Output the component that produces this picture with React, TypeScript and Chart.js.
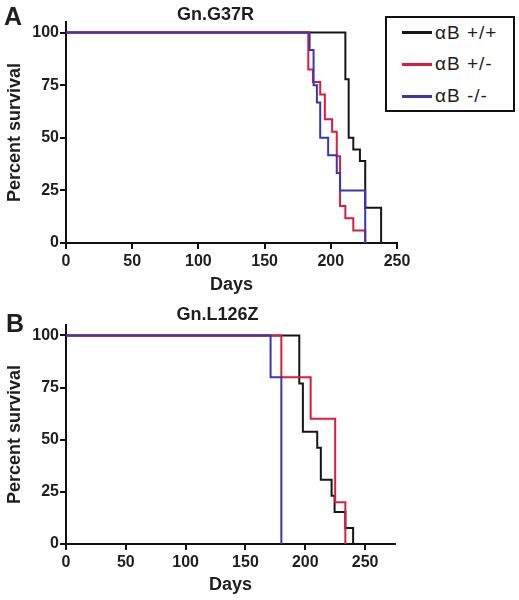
import React, { useEffect, useRef } from "react";
import { Chart, registerables } from "chart.js";
Chart.register(...registerables);

// ---------- Data ----------
// Panel A: Gn.G37R
const daysA_WT = [0, 211, 213.5, 217, 222, 226, 238];
const survA_WT = [100, 77.8, 50, 44.4, 38.9, 16.7, 0];
const daysA_HET = [0, 183, 186.5, 192, 195.5, 201, 204.5, 207, 211, 217, 226];
const survA_HET = [100, 82.4, 76.5, 70.6, 58.8, 52.9, 41.2, 17.6, 11.8, 5.9, 0];
const daysA_KO = [0, 184, 187, 189.5, 192, 198, 204.5, 207, 226];
const survA_KO = [100, 91.7, 75, 66.7, 50, 41.7, 33.3, 25, 0];

// Panel B: Gn.L126Z
const daysB_WT = [0, 195, 198, 210, 213, 222, 224.5, 233.5, 240];
const survB_WT = [100, 76.9, 53.8, 46.2, 30.8, 23.1, 15.4, 7.7, 0];
const daysB_HET = [0, 180, 204.5, 225, 233.5];
const survB_HET = [100, 80, 60, 20, 0];
const daysB_KO = [0, 171, 180];
const survB_KO = [100, 80, 0];

const xTicksA = [0, 50, 100, 150, 200, 250];
const xTicksB = [0, 50, 100, 150, 200, 250];
const yTicks = [0, 25, 50, 75, 100];

const seriesLabels = ["\u03b1B +/+", "\u03b1B +/-", "\u03b1B -/-"];
const COLORS = ["#161616", "#dc1c3e", "#3a36b0"];

const FONT = "'Liberation Sans', Arial, Helvetica, sans-serif";
const INK = "#1e1e1e";

function pts(days: number[], surv: number[]) {
  return days.map((d, i) => ({ x: d, y: surv[i] }));
}

type PanelProps = {
  wt: [number[], number[]];
  het: [number[], number[]];
  ko: [number[], number[]];
  xMax: number;
  xTicks: number[];
  top: number;
  right: number;
  bottom: number;
};

function Panel({ wt, het, ko, xMax, xTicks, top, right, bottom }: PanelProps) {
  const ref = useRef<HTMLCanvasElement | null>(null);
  useEffect(() => {
    if (!ref.current) return;
    const mk = (label: string, color: string, d: [number[], number[]]) => ({
      label,
      data: pts(d[0], d[1]),
      borderColor: color,
      backgroundColor: color,
      borderWidth: 2,
      pointRadius: 0,
      stepped: "before" as const,
      fill: false,
    });
    const chart = new Chart(ref.current, {
      type: "line",
      data: {
        datasets: [
          mk(seriesLabels[2], COLORS[2], ko),
          mk(seriesLabels[1], COLORS[1], het),
          mk(seriesLabels[0], COLORS[0], wt),
        ],
      },
      options: {
        animation: false,
        responsive: true,
        maintainAspectRatio: false,
        layout: { padding: { left: 0, right, top, bottom: 0 } },
        plugins: {
          legend: { display: false },
          tooltip: { enabled: false },
          title: { display: false },
        },
        scales: {
          x: {
            type: "linear",
            min: 0,
            max: xMax,
            afterBuildTicks: (s: any) => {
              s.ticks = xTicks.map((v) => ({ value: v }));
            },
            afterFit: (s: any) => {
              s.height = 300 - bottom;
            },
            ticks: {
              padding: 3,
              color: INK,
              font: { family: FONT, size: 16, weight: "bold" },
            },
            grid: {
              display: true,
              drawOnChartArea: false,
              drawTicks: true,
              tickLength: 6,
              lineWidth: 2,
              color: "#111",
            },
            border: { display: true, color: "#111", width: 2 },
            title: {
              display: true,
              text: "Days",
              color: INK,
              font: { family: FONT, size: 18, weight: "bold" },
              padding: { top: 0, bottom: 4 },
            },
          },
          y: {
            type: "linear",
            min: 0,
            max: 105,
            afterBuildTicks: (s: any) => {
              s.ticks = yTicks.map((v) => ({ value: v }));
            },
            afterFit: (s: any) => {
              s.width = 66;
            },
            ticks: {
              padding: 1,
              color: INK,
              font: { family: FONT, size: 16, weight: "bold" },
            },
            grid: {
              display: true,
              drawOnChartArea: false,
              drawTicks: true,
              tickLength: 6,
              lineWidth: 2,
              color: "#111",
            },
            border: { display: true, color: "#111", width: 2 },
            title: {
              display: true,
              text: "Percent survival",
              color: INK,
              font: { family: FONT, size: 18, weight: "bold" },
              padding: { top: 4, bottom: 0 },
            },
          },
        },
      },
    });
    return () => chart.destroy();
  }, []);
  return (
    <div style={{ position: "relative", width: 519, height: 300 }}>
      <canvas ref={ref} />
    </div>
  );
}

const abs = (s: React.CSSProperties): React.CSSProperties => ({
  position: "absolute",
  fontFamily: FONT,
  color: INK,
  lineHeight: 1,
  whiteSpace: "nowrap",
  ...s,
});

function Legend() {
  const rows = [32.5, 64, 96];
  return (
    <div
      style={{
        position: "absolute",
        left: 385,
        top: 16,
        width: 130,
        height: 96,
        border: "2px solid #111",
        boxSizing: "border-box",
        background: "#fff",
      }}
    >
      {seriesLabels.map((lab, i) => (
        <div key={lab}>
          <div
            style={{
              position: "absolute",
              left: 402 - 387,
              top: rows[i] - 18 - 1.5,
              width: 30,
              height: 3,
              background: COLORS[i],
            }}
          />
          <div
            style={abs({
              left: 435 - 387,
              top: rows[i] - 18 - 10,
              fontSize: 19,
              letterSpacing: 1,
            })}
          >
            {lab}
          </div>
        </div>
      ))}
    </div>
  );
}

export default function App() {
  return (
    <div
      style={{
        position: "absolute",
        left: 0,
        top: 0,
        width: 519,
        height: 600,
        background: "#fff",
      }}
    >
      <Panel
        wt={[daysA_WT, survA_WT]}
        het={[daysA_HET, survA_HET]}
        ko={[daysA_KO, survA_KO]}
        xMax={250}
        xTicks={xTicksA}
        top={22}
        right={519 - 397}
        bottom={243}
      />
      <Panel
        wt={[daysB_WT, survB_WT]}
        het={[daysB_HET, survB_HET]}
        ko={[daysB_KO, survB_KO]}
        xMax={275}
        xTicks={xTicksB}
        top={25}
        right={519 - 395}
        bottom={244}
      />
      <div style={abs({ left: 4, top: 4, fontSize: 25, fontWeight: "bold" })}>A</div>
      <div style={abs({ left: 6, top: 311, fontSize: 25, fontWeight: "bold" })}>B</div>
      <div
        style={abs({
          left: 215.5,
          top: 5,
          fontSize: 18,
          fontWeight: "bold",
          transform: "translateX(-50%)",
        })}
      >
        Gn.G37R
      </div>
      <div
        style={abs({
          left: 217.5,
          top: 305,
          fontSize: 18,
          fontWeight: "bold",
          transform: "translateX(-50%)",
        })}
      >
        Gn.L126Z
      </div>
      <Legend />
    </div>
  );
}
